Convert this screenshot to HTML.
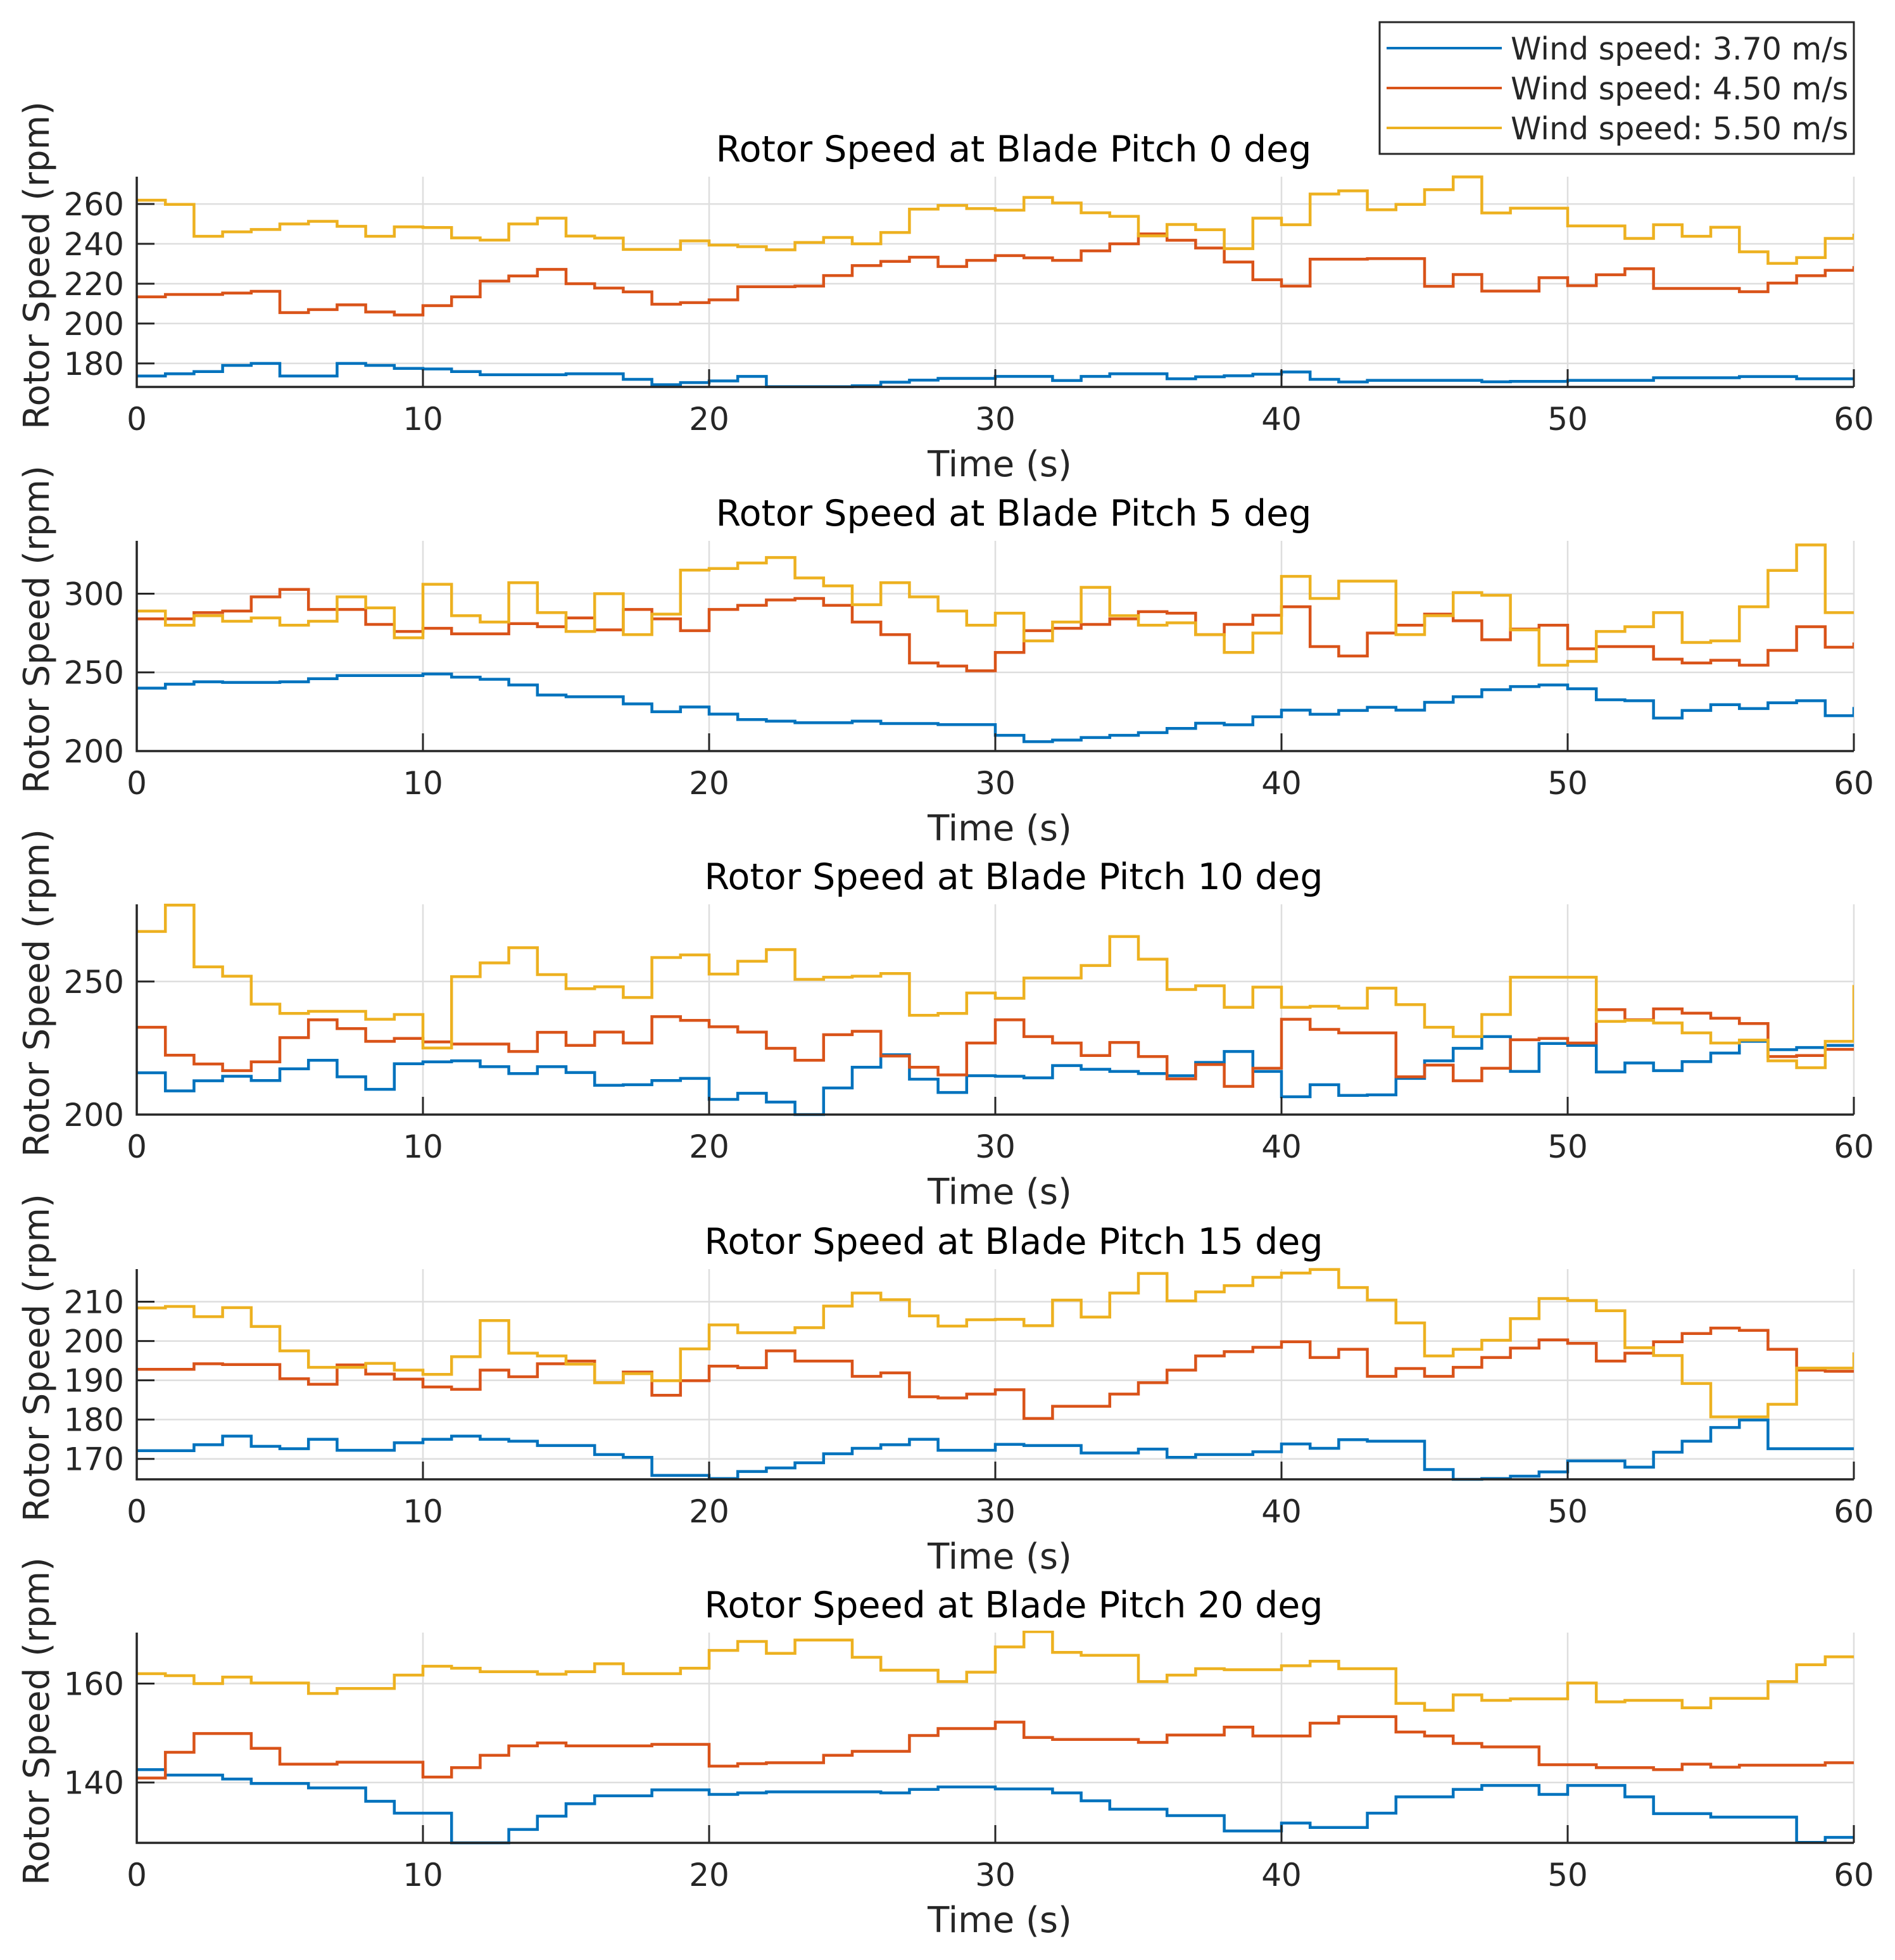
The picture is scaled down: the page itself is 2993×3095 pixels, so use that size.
<!DOCTYPE html>
<html><head><meta charset="utf-8"><title>Rotor Speed vs Blade Pitch</title>
<style>
html,body{margin:0;padding:0;background:#fff;}
svg{display:block;font-family:"DejaVu Sans","Liberation Sans",sans-serif;}
</style></head>
<body>
<svg id="chart" xmlns="http://www.w3.org/2000/svg" width="2993" height="3095" viewBox="0 0 2993 3095">
<rect width="2993" height="3095" fill="#ffffff"/>
<g id="panels"></g>
<g>
<rect x="2179" y="35" width="749" height="208" fill="#ffffff" stroke="#262626" stroke-width="3"/>
<g><line x1="2190" y1="76" x2="2372" y2="76" stroke="#0072BD" stroke-width="4"/><text x="2386" y="94" font-size="49" fill="#262626">Wind speed: 3.70 m/s</text></g>
<g><line x1="2190" y1="139" x2="2372" y2="139" stroke="#D95319" stroke-width="4"/><text x="2386" y="157" font-size="49" fill="#262626">Wind speed: 4.50 m/s</text></g>
<g><line x1="2190" y1="202" x2="2372" y2="202" stroke="#EDB120" stroke-width="4"/><text x="2386" y="220" font-size="49" fill="#262626">Wind speed: 5.50 m/s</text></g>
</g>
</svg>
<script>
const pitchAngles = [0, 5, 10, 15, 20];
const windSpeeds = ["3.70", "4.50", "5.50"];
const xTicks = [0, 10, 20, 30, 40, 50, 60];
const timeSec = [0,1,2,3,4,5,6,7,8,9,10,11,12,13,14,15,16,17,18,19,20,21,22,23,24,25,26,27,28,29,30,31,32,33,34,35,36,37,38,39,40,41,42,43,44,45,46,47,48,49,50,51,52,53,54,55,56,57,58,59,60];

const p0Ticks = [180,200,220,240,260];
const p0Lim = [168.2,273.7];
const p0W370 = [173.7,174.8,175.9,179,180,173.7,173.7,180,179,177.5,177.2,175.9,174.3,174.3,174.3,174.8,174.8,172,169.3,170.4,171.2,173.5,168.3,168.3,168.3,168.8,170.6,171.6,172.5,172.5,173.5,173.5,171.4,173.5,174.8,174.8,172.3,173.3,173.8,174.6,175.7,172,170.7,171.5,171.5,171.5,171.5,170.8,171,171,171.5,171.5,171.5,172.8,172.8,172.8,173.4,173.4,172.3,172.3,172.3];
const p0W450 = [213.4,214.6,214.6,215.3,216.2,205.5,207,209.4,205.8,204.3,209,213.4,221.3,223.9,227.2,220,217.8,215.9,209.7,210.5,211.9,218.5,218.5,218.8,224.1,229.1,231.2,233.3,228.6,231.7,234.1,233,231.7,236.5,240,245,241.8,237.9,230.9,222,218.8,232.3,232.3,232.6,232.6,218.7,224.6,216.3,216.3,223,219,224.5,227.5,217.6,217.6,217.6,216,220.3,224,226.7,228.8];
const p0W550 = [261.9,259.8,243.8,246,247.2,250,251.3,248.8,243.8,248.5,248.2,243,241.9,250,252.9,243.9,242.9,237.2,237.2,241.5,239.4,238.6,237,240.7,243.2,240,245.7,257.4,259.3,257.7,256.9,263.3,260.5,255.6,253.8,244,249.7,247.1,237.6,252.9,249.6,265,266.6,257.1,259.8,267.2,273.6,255.5,257.9,257.9,249,249,242.7,249.6,243.8,248.3,236,230.2,233.1,242.7,245.1];

const p1Ticks = [200,250,300];
const p1Lim = [200,333.6];
const p1W370 = [240,242.5,244,243.6,243.6,244,246,248,248,248,249,247,245.6,242,235.6,234.5,234.5,230,225,228,223.5,220,219,218,218,219,217.5,217.5,216.8,216.8,210,206,207,208.6,210,211.7,214.4,217.7,216.7,221.8,226,223.4,225.8,227.8,226,231,234.5,239,241,242,239.6,232.6,232,221,225.8,229.5,227,230.7,232,222.5,228];
const p1W450 = [284,284,288,289,298,302.7,290,290,280.5,276,278,274.5,274.5,281,279,284.6,277,290,284,276.5,290,292.6,296,297,292.6,282,274,256,254,251,262.7,276.5,278,280.5,284,288.6,287.6,274,280.5,286.3,291.7,266.4,260.4,275,280,287,282.8,270.7,277.5,280,265,266.4,266.4,258.4,256,257.7,254.6,264,279,266,269];
const p1W550 = [289,280,286,282.5,284.6,280,282.5,298,291,272,306,286,282,307,288,276,300,274,287,315,316,319.5,323,310,305,293,307,298,289,280,287.6,270,282,304,286,280,281.5,274,262.7,275,311,297,308,308,274,286,300.7,299,277,254.6,257,276,279,288,269,270,291.7,314.8,331,288,288];

const p2Ticks = [200,250];
const p2Lim = [200,279];
const p2W370 = [215.7,208.9,212.7,214.4,212.8,217.2,220.4,214.2,209.5,219.1,219.8,220.2,218,215.4,218,215.8,211,211.2,212.8,213.6,205.7,208,204.7,200,210,217.8,222.5,213.3,208.3,214.6,214.4,213.8,218.4,217,216.2,215.4,214.6,219.6,223.7,216.2,206.7,211.2,207.2,207.4,213.6,220.2,224.9,229.3,216.2,226.7,226,216,219.4,216.5,219.9,223.1,227.5,224.4,225.2,226,226];
const p2W450 = [232.8,222.3,219,216.5,219.8,228.9,235.6,232.3,227.5,228.6,227.3,226.5,226.5,223.7,230.9,226,231,226.9,236.8,235.4,233,231,224.9,220.4,230,231.3,222,217.8,214.9,226.9,235.6,229.3,226.9,222.2,227.1,221.8,213.4,218.8,210.6,217.4,235.8,232,230.7,230.7,214.2,218.6,212.7,217.4,228.1,228.6,226.9,239.4,235.6,239.7,238.1,236.2,234.2,221.8,222.2,224.5,224.5];
const p2W550 = [268.8,278.7,255.5,252,241.5,238,238.8,238.8,235.8,237.6,225,251.8,257,262.7,252.6,247.3,248,244,259,260,252.8,257.6,262,250.8,251.6,252,253,237.3,238,245.7,243.7,251.3,251.3,256,266.9,258.4,247,248.4,240.3,247.9,240.3,240.7,240,247.5,241.3,232.8,229.3,237.6,251.6,251.6,251.6,235,235.4,234.4,230.7,226.9,228,220.2,217.6,227.5,248.7];

const p3Ticks = [170,180,190,200,210];
const p3Lim = [164.8,218.3];
const p3W370 = [172.1,172.1,173.6,175.8,173.2,172.6,175,172.2,172.2,174.1,175,175.8,175,174.5,173.4,173.4,171.1,170.4,165.8,165.8,165,166.8,167.7,169,171.3,172.7,173.6,175,172.2,172.2,173.7,173.4,173.4,171.5,171.5,172.5,170.4,171.1,171.1,171.8,173.8,172.7,174.9,174.5,174.5,167.3,164.8,165,165.6,166.7,169.5,169.5,167.9,171.7,174.5,178,179.9,172.6,172.6,172.6,172.6];
const p3W450 = [192.8,192.8,194.2,194,194,190.4,189,193.9,191.6,190.3,188.3,187.7,192.6,190.9,194.2,194.9,189.4,192.1,186.2,189.9,193.6,193.2,197.5,194.9,194.9,191,191.9,185.8,185.5,186.5,187.6,180.3,183.4,183.4,186.5,189.4,192.6,196.2,197.3,198.4,199.8,195.8,197.9,191,193,191,193.3,195.8,198.2,200.3,199.4,194.9,196.9,199.8,201.9,203.3,202.7,197.9,192.6,192.3,192.3];
const p3W550 = [208.4,208.8,206.2,208.5,203.7,197.5,193.3,193.3,194.3,192.6,191.5,196,205.2,196.9,196.2,194.1,189.4,191.7,189.9,198,204.1,202.1,202.1,203.4,208.9,212.2,210.5,206.4,203.8,205.4,205.5,203.9,210.4,206.1,212.2,217.2,210.2,212.5,214.1,216.2,217.3,218.2,213.6,210.4,204.6,196.2,197.9,200.2,205.7,210.8,210.3,207.7,198.3,196.3,189.2,180.7,180.7,183.9,193.1,193.1,197.1];

const p4Ticks = [140,160];
const p4Lim = [127.8,170.3];
const p4W370 = [142.6,141.5,141.5,140.7,139.8,139.8,138.9,138.9,136.2,133.8,133.8,127.8,127.8,130.5,133.2,135.7,137.3,137.3,138.5,138.5,137.6,137.9,138.1,138.1,138.1,138.1,137.9,138.6,139.1,139.1,138.7,138.7,137.9,136.3,134.6,134.6,133.3,133.3,130.2,130.2,131.8,130.9,130.9,133.8,137.1,137.1,138.6,139.4,139.4,137.6,139.4,139.4,137.1,133.7,133.7,133,133,133,127.9,128.9,128.9];
const p4W450 = [140.9,146.1,149.9,149.9,146.9,143.7,143.7,144.1,144.1,144.1,141.1,143,145.5,147.4,148,147.4,147.4,147.4,147.7,147.7,143.3,143.8,144,144,145.5,146.3,146.3,149.5,150.9,150.9,152.2,149.1,148.7,148.7,148.7,148.1,149.6,149.6,151.2,149.4,149.4,152,153.3,153.3,150.2,149.4,147.9,147.2,147.2,143.6,143.6,143,143,142.6,143.7,143.1,143.5,143.5,143.5,144,144];
const p4W550 = [162,161.6,160,161.3,160.1,160.1,158,159,159,161.7,163.5,163.1,162.4,162.4,161.9,162.4,164,162,162,163.1,166.7,168.5,166.1,168.8,168.8,165.3,162.7,162.7,160.4,162.3,167.4,170.5,166.3,165.7,165.7,160.4,161.7,163,162.8,162.8,163.6,164.5,163,163,156,154.6,157.7,156.6,156.9,156.9,160.1,156.3,156.6,156.6,155.1,157,157,160.4,163.8,165.4,165.4];

const panelTicks = [p0Ticks, p1Ticks, p2Ticks, p3Ticks, p4Ticks];
const panelLims = [p0Lim, p1Lim, p2Lim, p3Lim, p4Lim];
const panelSeries = [[p0W370,p0W450,p0W550],[p1W370,p1W450,p1W550],[p2W370,p2W450,p2W550],[p3W370,p3W450,p3W550],[p4W370,p4W450,p4W550]];

const NS = "http://www.w3.org/2000/svg";
const colors = ["#0072BD","#D95319","#EDB120"];
const L = 216, R = 2928, H = 332;
const tops = [279, 854, 1428, 2004, 2578];
const root = document.getElementById("panels");
function mk(tag, attrs, parent){ const e=document.createElementNS(NS,tag); for(const k in attrs) e.setAttribute(k,attrs[k]); parent.appendChild(e); return e; }

pitchAngles.forEach((pitch, p) => {
  const top = tops[p], bot = top + H;
  const lim = panelLims[p];
  const xs = t => L + (t - 0) / 60 * (R - L);
  const ys = v => bot - (v - lim[0]) / (lim[1] - lim[0]) * H;
  const g = mk("g", {}, root);
  
  
  const clipId = "clip" + p;
  const cp = mk("clipPath", {id: clipId}, g);
  mk("rect", {x: L, y: top - 3, width: R - L, height: H + 6}, cp);
  xTicks.forEach(t => { if (t > 0) { const l = mk("line", {x1: xs(t), x2: xs(t), y1: top, y2: bot, stroke: "#dedede", "stroke-width": 2.5}, g);
    
     } });
  panelTicks[p].forEach(v => { const l = mk("line", {x1: L, x2: R, y1: ys(v), y2: ys(v), stroke: "#dedede", "stroke-width": 2.5}, g);
    
     });
  panelSeries[p].forEach((vals, s) => {
    let d = "M" + xs(timeSec[0]) + "," + ys(vals[0]);
    for (let i = 1; i < vals.length; i++) d += "H" + xs(timeSec[i]) + "V" + ys(vals[i]);
    const path = mk("path", {d: d, fill: "none", stroke: colors[s], "stroke-width": 4.5, "clip-path": "url(#" + clipId + ")"}, g);
    
    
  });
  const ax = mk("path", {d: "M" + L + "," + top + "V" + bot + "H" + R, fill: "none", stroke: "#262626", "stroke-width": 3.5}, g);
  
  
  xTicks.forEach(t => {
    const tk = mk("line", {x1: xs(t), x2: xs(t), y1: bot, y2: bot - 28, stroke: "#262626", "stroke-width": 3}, g);
    
    
    const tx = mk("text", {x: xs(t), y: bot + 68, "text-anchor": "middle", "font-size": 50, fill: "#262626"}, g);
    tx.textContent = t;
    
    
  });
  panelTicks[p].forEach(v => {
    const tk = mk("line", {x1: L, x2: L + 28, y1: ys(v), y2: ys(v), stroke: "#262626", "stroke-width": 3}, g);
    
    
    const tx = mk("text", {x: L - 20, y: ys(v) + 18, "text-anchor": "end", "font-size": 50, fill: "#262626"}, g);
    tx.textContent = v;
    
    
  });
  const title = mk("text", {x: 1601, y: top - 24, "text-anchor": "middle", "font-size": 57, fill: "#000"}, g);
  title.textContent = "Rotor Speed at Blade Pitch " + pitch + " deg";
  
  
  const xl = mk("text", {x: 1579, y: bot + 141, "text-anchor": "middle", "font-size": 56, fill: "#262626"}, g);
  xl.textContent = "Time (s)";
  
  
  const cy = (top + bot) / 2 - 26;
  const yl = mk("text", {x: 0, y: 0, transform: "translate(77," + cy + ") rotate(-90)", "text-anchor": "middle", "font-size": 56, fill: "#262626"}, g);
  yl.textContent = "Rotor Speed (rpm)";
  
  
});
</script>
</body></html>
